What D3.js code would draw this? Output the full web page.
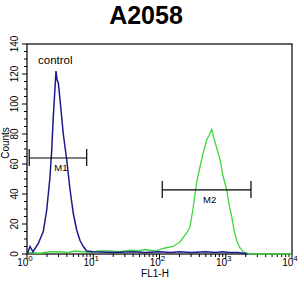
<!DOCTYPE html>
<html>
<head>
<meta charset="utf-8">
<script src="https://cdn.jsdelivr.net/npm/d3@7"></script>
<style>
  body { margin: 0; background: #fff; }
  text { font-family: "Liberation Sans", Arial, sans-serif; }
</style>
</head>
<body>
<div id="chart"></div>
<script>
// ── Data ─────────────────────────────────────────────────────────────────
const chartTitle = "A2058";
const xLabel = "FL1-H";
const yLabel = "Counts";
const yTicks = [0, 20, 40, 60, 80, 100, 120, 140];
const xDecades = [0, 1, 2, 3, 4];

// control histogram (blue): FL1-H value, count
const controlX = [1.01, 1.11, 1.23, 1.48, 1.76, 1.98, 2.22, 2.36, 2.49, 2.65, 2.74, 2.85, 2.97, 3.15, 3.53, 3.97, 4.46, 5.0, 5.62, 6.31, 7.08, 7.96, 10, 20, 40, 60, 100, 150, 200, 300, 500, 700, 900, 1100, 1500, 1900, 2100];
const controlY = [0, 5, 1.5, 7, 15, 29, 51, 69, 91, 111, 122, 116, 114, 103, 80, 63, 43, 27, 16, 9, 5, 2, 1.5, 1, 1.5, 1, 1.5, 1, 1.5, 1, 1.5, 1, 1.5, 1, 1, 0.5, 0];

// sample histogram (green)
const sampleX = [1, 1.57, 2.2, 3.15, 4.2, 5.3, 7, 8.93, 12, 17.9, 25, 35.9, 48, 60.4, 85.5, 121, 160, 204, 257, 288, 320, 364, 408, 454, 516, 558, 614, 640, 665, 738, 819, 908, 1033, 1119, 1230, 1334, 1462, 1640, 1841, 2323, 10000];
const sampleY = [1, 0.5, 1.5, 1.5, 1, 2, 1.5, 1, 2, 2, 1.5, 2.5, 2, 3, 2, 4, 5, 8, 14, 18, 30, 48, 58, 67, 76, 79, 83, 80, 77, 70, 63, 52, 43, 33, 25, 16, 9, 4, 1.5, 0, 0];

// marker gates
const markerNames = ["M1", "M2"];
const markerFrom = [1.08, 110];
const markerTo = [7.96, 2405];
const markerLevel = [64, 42.7];

const controlLabel = "control";

// ── Layout ───────────────────────────────────────────────────────────────
const W = 304, H = 298;
const margin = { top: 44, right: 12, bottom: 44, left: 27 };

const svg = d3.select("#chart").append("svg")
  .attr("width", W).attr("height", H);

const x = d3.scaleLog().domain([1, 1e4]).range([margin.left, W - margin.right]);
const y = d3.scaleLinear().domain([0, 140]).range([H - margin.bottom, margin.top]);

// title
svg.append("text")
  .attr("x", 146).attr("y", 24)
  .attr("text-anchor", "middle")
  .style("font-size", "25px").style("font-weight", "bold")
  .text(chartTitle);

// frame
svg.append("rect")
  .attr("x", x(1)).attr("y", y(140))
  .attr("width", x(1e4) - x(1)).attr("height", y(0) - y(140))
  .attr("fill", "none").attr("stroke", "#000").attr("stroke-width", 1.2);

// Y axis ticks (minor every 5)
const yMinor = d3.range(0, 141, 5);
svg.selectAll(".ytick")
  .data(yMinor)
  .enter().append("line")
    .attr("x1", x(1)).attr("x2", d => x(1) - (d % 20 === 0 ? 5 : 3))
    .attr("y1", d => y(d)).attr("y2", d => y(d))
    .attr("stroke", "#000").attr("stroke-width", 1);

svg.selectAll(".ylab")
  .data(yTicks)
  .enter().append("text")
    .attr("transform", d => `translate(18,${y(d)}) rotate(-90)`)
    .attr("text-anchor", "middle")
    .style("font-size", "10px")
    .text(d => d);

svg.append("text")
  .attr("transform", `translate(8.5,${y(70) - 6}) rotate(-90)`)
  .attr("text-anchor", "middle")
  .style("font-size", "10px")
  .text(yLabel);

// X axis ticks (log minor)
const xMinor = [];
xDecades.forEach(k => {
  for (let m = 1; m <= 9; m++) {
    const v = m * Math.pow(10, k);
    if (v <= 1e4) xMinor.push({ v, major: m === 1 });
  }
});
svg.selectAll(".xtick")
  .data(xMinor)
  .enter().append("line")
    .attr("x1", d => x(d.v)).attr("x2", d => x(d.v))
    .attr("y1", y(0)).attr("y2", d => y(0) + (d.major ? 5 : 3))
    .attr("stroke", "#000").attr("stroke-width", 1);

const xl = svg.selectAll(".xlab")
  .data(xDecades)
  .enter().append("text")
    .attr("x", d => x(Math.pow(10, d)) - 2)
    .attr("y", 266)
    .attr("text-anchor", "middle")
    .style("font-size", "10px");
xl.append("tspan").text("10");
xl.append("tspan").attr("dy", -5).style("font-size", "8px").text(d => d);

svg.append("text")
  .attr("x", 155).attr("y", 277)
  .attr("text-anchor", "middle")
  .style("font-size", "10px")
  .text(xLabel);

// histograms
const line = d3.line().x(d => x(d[0])).y(d => y(d[1]));

svg.append("path")
  .datum(sampleX.map((v, i) => [v, sampleY[i]]))
  .attr("fill", "none")
  .attr("stroke", "#3fd63f")
  .attr("stroke-width", 1.3)
  .attr("d", line);

svg.append("path")
  .datum(controlX.map((v, i) => [v, controlY[i]]))
  .attr("fill", "none")
  .attr("stroke", "#1a1a8a")
  .attr("stroke-width", 1.5)
  .attr("d", line);

// marker gates
markerNames.forEach((name, i) => {
  const x0 = x(markerFrom[i]), x1 = x(markerTo[i]), yy = y(markerLevel[i]);
  const g = svg.append("g");
  g.append("line").attr("x1", x0).attr("x2", x1).attr("y1", yy).attr("y2", yy)
    .attr("stroke", "#000").attr("stroke-width", 1.2);
  [x0, x1].forEach(xx => {
    g.append("line").attr("x1", xx).attr("x2", xx).attr("y1", yy - 9).attr("y2", yy + 8)
      .attr("stroke", "#000").attr("stroke-width", 1.2);
  });
  g.append("text")
    .attr("x", (x0 + x1) / 2 + 3).attr("y", yy + 13)
    .attr("text-anchor", "middle")
    .style("font-size", "9.5px")
    .text(name);
});

svg.append("text")
  .attr("x", 38).attr("y", 64)
  .style("font-size", "11.5px")
  .text(controlLabel);
</script>
</body>
</html>
